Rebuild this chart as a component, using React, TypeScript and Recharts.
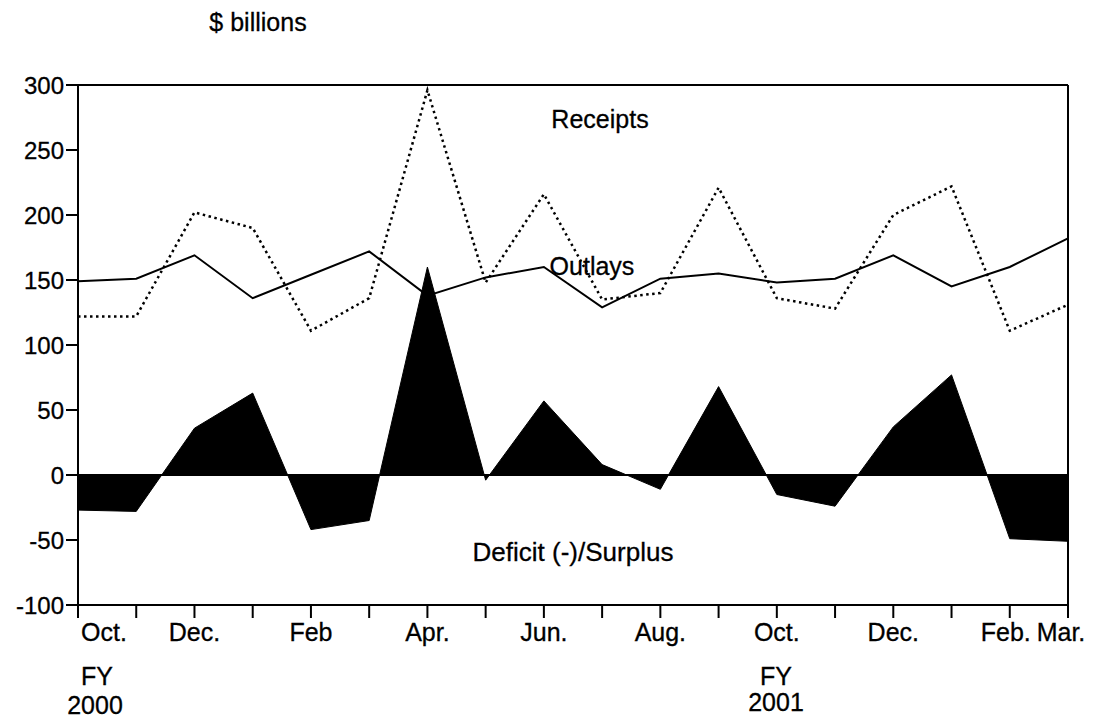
import React from 'react';
import {
  ComposedChart,
  Line,
  Area,
  XAxis,
  YAxis,
  ReferenceLine
} from 'recharts';

// Oct. FY2000 through Mar. FY2001, $ billions
const months = [
  'Oct', 'Nov', 'Dec', 'Jan', 'Feb', 'Mar', 'Apr', 'May', 'Jun',
  'Jul', 'Aug', 'Sep', 'Oct', 'Nov', 'Dec', 'Jan', 'Feb', 'Mar'
];
const tickLabels = [
  'Oct.', '', 'Dec.', '', 'Feb', '', 'Apr.', '', 'Jun.',
  '', 'Aug.', '', 'Oct.', '', 'Dec.', '', 'Feb.', 'Mar.'
];
const receipts = [122, 122, 202, 190, 111, 136, 296, 148, 216, 135, 140, 221, 136, 128, 200, 222, 111, 131];
const outlays = [149, 151, 169, 136, 154, 172, 138, 152, 160, 129, 151, 155, 148, 151, 169, 145, 160, 182];
const surplus = [-27, -28, 36, 63, -42, -35, 160, -4, 57, 8, -11, 68, -15, -24, 37, 77, -49, -51];
const yTicks = [-100, -50, 0, 50, 100, 150, 200, 250, 300];

const data = months.map((m, i) => ({
  i,
  month: m,
  receipts: receipts[i],
  outlays: outlays[i],
  surplus: surplus[i]
}));

const FONT = '"Liberation Sans", Arial, sans-serif';

const MonthTick = ({ x, y, payload }: any) => {
  const idx = payload.value as number;
  const label = tickLabels[idx];
  if (!label) return null;
  let anchor: 'start' | 'middle' | 'end' = 'middle';
  let dx = 0;
  if (idx === 0) { anchor = 'start'; dx = 3; }
  if (idx === 16) dx = -4;
  if (idx === 17) dx = -7;
  return (
    <text
      x={x + dx}
      y={y}
      dy="0.71em"
      textAnchor={anchor}
      fontFamily={FONT}
      fontSize={25}
      fill="#000"
      stroke="#000"
      strokeWidth={0.3}
    >
      {label}
    </text>
  );
};

export default function App() {
  return (
    <div style={{ position: 'absolute', left: 0, top: 0, width: 1093, height: 718, background: '#fff' }}>
      <ComposedChart
        width={1093}
        height={718}
        data={data}
        margin={{ top: 85, right: 25, bottom: 83, left: 0 }}
      >
        <XAxis
          type="number"
          dataKey="i"
          domain={[0, 17]}
          ticks={months.map((_, i) => i)}
          interval={0}
          tickSize={13}
          tickMargin={5}
          tick={<MonthTick />}
          axisLine={{ stroke: '#000', strokeWidth: 2 }}
          tickLine={{ stroke: '#000', strokeWidth: 2 }}
          height={30}
        />
        <YAxis
          type="number"
          domain={[-100, 300]}
          ticks={yTicks}
          interval={0}
          width={78}
          tickSize={12}
          tickMargin={2}
          axisLine={{ stroke: '#000', strokeWidth: 2 }}
          tickLine={{ stroke: '#000', strokeWidth: 2 }}
          tick={{ fill: '#000', fontSize: 24, fontFamily: FONT, stroke: '#000', strokeWidth: 0.3 }}
        />
        <ReferenceLine y={300} stroke="#000" strokeWidth={2} />
        <ReferenceLine x={17} stroke="#000" strokeWidth={2} />
        <Area
          type="linear"
          dataKey="surplus"
          baseValue={0}
          stroke="#000"
          strokeWidth={1}
          fill="#000"
          fillOpacity={1}
          dot={false}
          activeDot={false}
          isAnimationActive={false}
        />
        <ReferenceLine y={0} stroke="#000" strokeWidth={2} />
        <Line
          type="linear"
          dataKey="outlays"
          stroke="#000"
          strokeWidth={2}
          dot={false}
          activeDot={false}
          isAnimationActive={false}
        />
        <Line
          type="linear"
          dataKey="receipts"
          stroke="#000"
          strokeWidth={2.5}
          strokeDasharray="2.5 3.5"
          dot={false}
          activeDot={false}
          isAnimationActive={false}
        />
      </ComposedChart>
      <svg
        width={1093}
        height={718}
        style={{ position: 'absolute', left: 0, top: 0, pointerEvents: 'none' }}
        fontFamily={FONT}
        fontSize={25}
        fill="#000"
        stroke="#000"
        strokeWidth={0.3}
      >
        <text x={258} y={31} textAnchor="middle">$ billions</text>
        <text x={600} y={128} textAnchor="middle">Receipts</text>
        <text x={592} y={275} textAnchor="middle">Outlays</text>
        <text x={573} y={561} textAnchor="middle" fontSize={26}>Deficit (-)/Surplus</text>
        <text x={97} y={685} textAnchor="middle">FY</text>
        <text x={95} y={714} textAnchor="middle">2000</text>
        <text x={776} y={685} textAnchor="middle">FY</text>
        <text x={776} y={711} textAnchor="middle">2001</text>
      </svg>
    </div>
  );
}
